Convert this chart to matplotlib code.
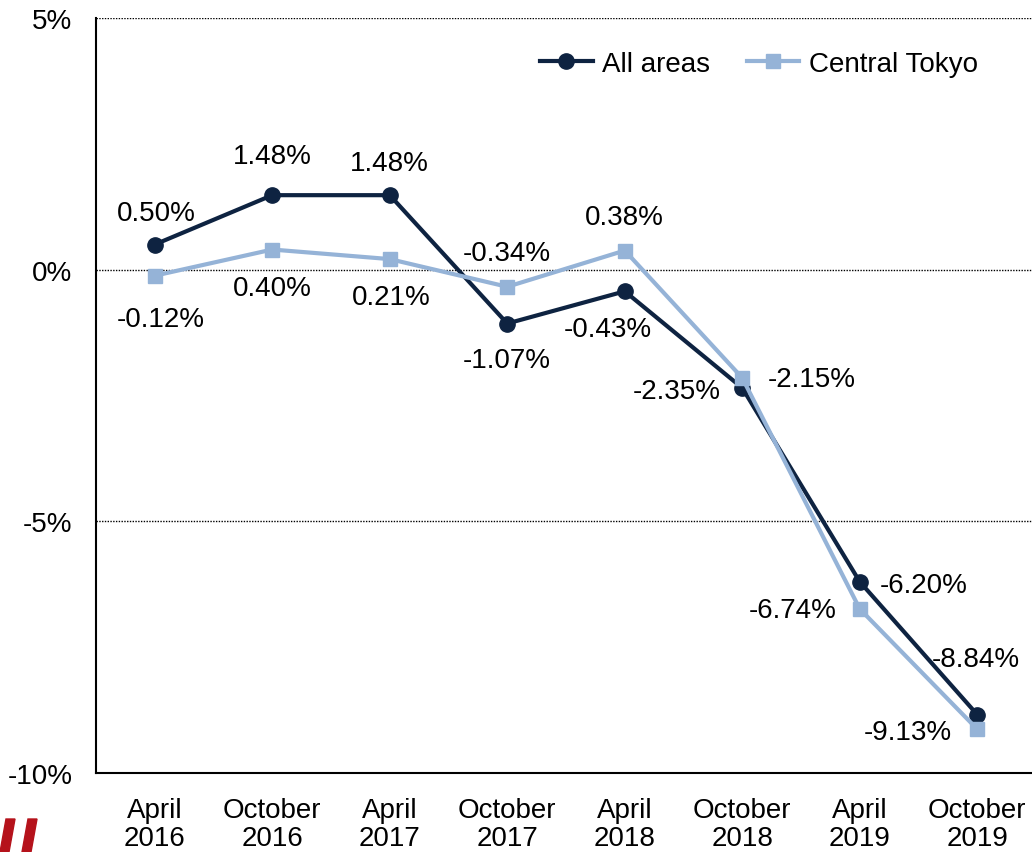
"""Price change chart: All areas vs Central Tokyo"""

import matplotlib.pyplot as plt
from matplotlib.patches import Polygon

periods = ["April\n2016", "October\n2016", "April\n2017", "October\n2017",
           "April\n2018", "October\n2018", "April\n2019", "October\n2019"]
all_areas = [0.50, 1.48, 1.48, -1.07, -0.43, -2.35, -6.20, -8.84]
central_tokyo = [-0.12, 0.40, 0.21, -0.34, 0.38, -2.15, -6.74, -9.13]

# label offsets in points (dx, dy)
all_offsets = [(1, 23), (0, 28), (0, 23), (0, -26), (-12, -27), (-47, -2), (46, -2), (-1, 40)]
ct_offsets = [(4, -31), (0, -28), (1, -27), (0, 24), (0, 24), (50, -1), (-48, -1), (-50, -2)]

dark = "#0e2341"
light = "#95b3d7"

plt.rcParams["font.family"] = ["Liberation Sans", "DejaVu Sans"]
plt.rcParams["font.size"] = 20

fig = plt.figure(figsize=(10.32, 8.53), dpi=100)
ax = fig.add_axes([96 / 1032, 1 - 774 / 853, 940 / 1032, 755 / 853])

x = range(len(periods))
ax.plot(x, all_areas, color=dark, lw=3, marker="o", ms=11, label="All areas", zorder=3)
ax.plot(x, central_tokyo, color=light, lw=3, marker="s", ms=10, label="Central Tokyo", zorder=3)

for i, v in enumerate(all_areas):
    ax.annotate(f"{v:.2f}%", (i, v), xytext=all_offsets[i], textcoords="offset points",
                ha="center", va="center")
for i, v in enumerate(central_tokyo):
    ax.annotate(f"{v:.2f}%", (i, v), xytext=ct_offsets[i], textcoords="offset points",
                ha="center", va="center")

ax.set_xlim(-0.5, len(periods) - 0.5)
ax.set_ylim(-10, 5)
ax.set_yticks([5, 0, -5, -10])
ax.set_yticklabels(["5%", "0%", "-5%", "-10%"])
ax.set_xticks(list(x))
ax.set_xticklabels(periods, linespacing=1.12)
ax.tick_params(length=0)
ax.tick_params(axis="x", pad=17)
ax.tick_params(axis="y", pad=17)

for y in [5, 0, -5]:
    ax.axhline(y, color="black", lw=1, ls=(0, (1, 1)), zorder=1)

ax.spines["top"].set_visible(False)
ax.spines["right"].set_visible(False)
ax.spines["left"].set_linewidth(1.5)
ax.spines["bottom"].set_linewidth(1.5)

ax.legend(loc="upper right", bbox_to_anchor=(0.965, 0.99), ncol=2, frameon=False,
          handlelength=1.9, columnspacing=1.3, handletextpad=0.35, fontsize=20)

# red logo mark in the corner
red = "#b5121b"
for x0 in [0, 22]:
    fig.patches.append(Polygon([(x0 / 1032, 0), ((x0 + 9) / 1032, 0),
                                ((x0 + 15) / 1032, 33 / 853), ((x0 + 6) / 1032, 33 / 853)],
                               closed=True, transform=fig.transFigure, color=red))

fig.savefig("out.png", dpi=100)
